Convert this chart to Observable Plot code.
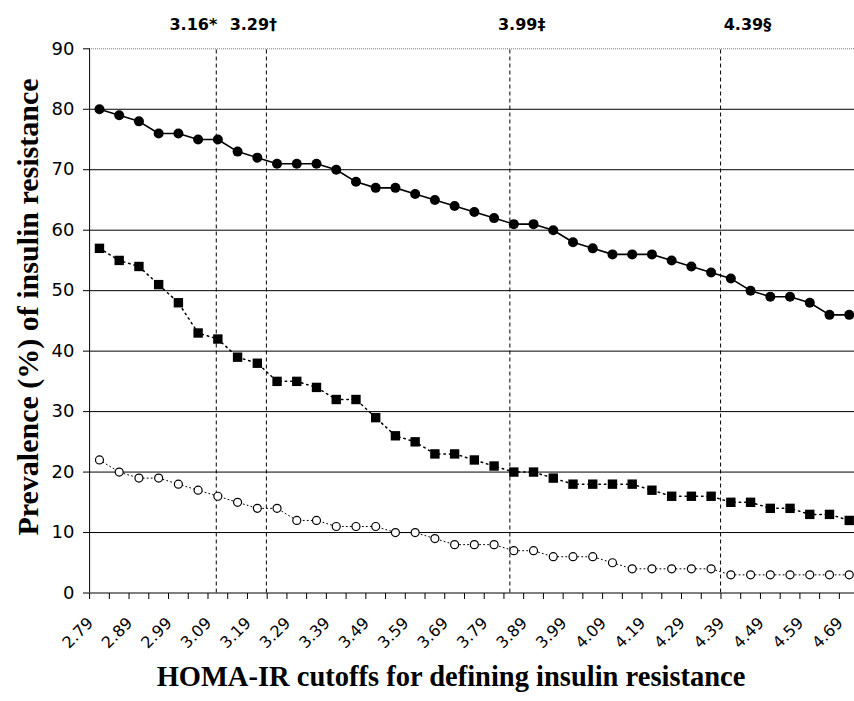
<!DOCTYPE html>
<html><head><meta charset="utf-8">
<script src="https://cdn.jsdelivr.net/npm/d3@7"></script>
<script src="https://cdn.jsdelivr.net/npm/@observablehq/plot@0.6"></script>
<style>body{margin:0;background:#fff} #chart svg{overflow:visible}</style>
</head><body><div id="chart"></div>
<script>
const categories = ["2.79","2.84","2.89","2.94","2.99","3.04","3.09","3.14","3.19","3.24","3.29","3.34","3.39","3.44","3.49","3.54","3.59","3.64","3.69","3.74","3.79","3.84","3.89","3.94","3.99","4.04","4.09","4.14","4.19","4.24","4.29","4.34","4.39","4.44","4.49","4.54","4.59","4.64","4.69"];
const tickLabels = ["2.79","2.89","2.99","3.09","3.19","3.29","3.39","3.49","3.59","3.69","3.79","3.89","3.99","4.09","4.19","4.29","4.39","4.49","4.59","4.69"];
const seriesCircles = [80,79,78,76,76,75,75,73,72,71,71,71,70,68,67,67,66,65,64,63,62,61,61,60,58,57,56,56,56,55,54,53,52,50,49,49,48,46,46];
const seriesSquares = [57,55,54,51,48,43,42,39,38,35,35,34,32,32,29,26,25,23,23,22,21,20,20,19,18,18,18,18,17,16,16,16,15,15,14,14,13,13,12];
const seriesOpen = [22,20,19,19,18,17,16,15,14,14,12,12,11,11,11,10,10,9,8,8,8,7,7,6,6,6,5,4,4,4,4,4,3,3,3,3,3,3,3];
const yTicks = [0,10,20,30,40,50,60,70,80,90];
const cutoffAt = [3.086, 3.213, 3.83, 4.364];
const cutoffText = ["3.16*","3.29\u2020","3.99\u2021","4.39\u00a7"];
const cutoffTextAt = [3.028, 3.18, 3.86, 4.432];

const xs = categories.map(Number);
const step = 0.05;
const boundaries = xs.map(v => v - step/2).concat([xs[xs.length-1] + step/2]);
const rows = (vals) => xs.map((x, i) => ({x, y: vals[i]}));
const A = rows(seriesCircles), B = rows(seriesSquares), C = rows(seriesOpen);
const labelRows = cutoffText.map((t, i) => ({t, x: cutoffTextAt[i]}));
const sans = "DejaVu Sans, Arial, sans-serif";
const serif = "Liberation Serif, Times New Roman, serif";

const chart = Plot.plot({
  width: 854, height: 701,
  marginLeft: 89, marginRight: 0, marginTop: 48, marginBottom: 108,
  style: {fontFamily: sans, fontSize: "16px", color: "#000", background: "#fff"},
  x: {domain: [boundaries[0], boundaries[boundaries.length-1]], range: [89.1, 858.6]},
  y: {domain: [0, 90], range: [592.5, 48.3]},
  marks: [
    Plot.ruleY(yTicks.filter(d => d > 0 && d < 90), {stroke: "#000", strokeWidth: 1}),
    Plot.ruleY([90], {stroke: "#777", strokeWidth: 1, strokeDasharray: "1,1"}),
    Plot.ruleX(cutoffAt, {y1: 0, y2: 90, stroke: "#000", strokeWidth: 1, strokeDasharray: "4,3"}),
    Plot.ruleY([0], {stroke: "#000", strokeWidth: 1}),
    Plot.ruleX([boundaries[0]], {y1: 0, y2: 90, stroke: "#000", strokeWidth: 1}),
    Plot.axisY(yTicks, {tickSize: 6, tickPadding: 9, fontSize: 18, label: null}),
    Plot.axisX(boundaries, {tickSize: 6, tickFormat: () => "", label: null}),
    Plot.axisX(tickLabels.map(Number), {tickSize: 0, tickPadding: 27, dx: -9, tickRotate: -45, fontSize: 16, tickFormat: d => d.toFixed(2), label: null}),
    Plot.line(B, {x: "x", y: "y", stroke: "#000", strokeWidth: 1.5, strokeDasharray: "1.5,4"}),
    Plot.line(C, {x: "x", y: "y", stroke: "#000", strokeWidth: 1, strokeDasharray: "1,3"}),
    Plot.line(A, {x: "x", y: "y", stroke: "#000", strokeWidth: 1.6}),
    Plot.dot(A, {x: "x", y: "y", r: 5, fill: "#000"}),
    Plot.dot(B, {x: "x", y: "y", r: 5.3, symbol: "square", fill: "#000"}),
    Plot.dot(C, {x: "x", y: "y", r: 4, fill: "#fff", stroke: "#000", strokeWidth: 1.2}),
    Plot.text(labelRows, {x: "x", y: () => 90, text: "t", dy: -24, fontSize: 16, fontWeight: "bold", fontFamily: sans}),
    Plot.text(["HOMA-IR cutoffs for defining insulin resistance"], {frameAnchor: "bottom", textAnchor: "middle", dx: -21, dy: 92, fontSize: 28.5, fontWeight: "bold", fontFamily: serif}),
    Plot.text(["Prevalence (%) of insulin resistance"], {frameAnchor: "left", textAnchor: "middle", lineAnchor: "middle", rotate: -90, dx: -61, dy: -14, fontSize: 30, fontWeight: "bold", fontFamily: serif})
  ]
});
document.getElementById("chart").appendChild(chart);
</script>
</body></html>
